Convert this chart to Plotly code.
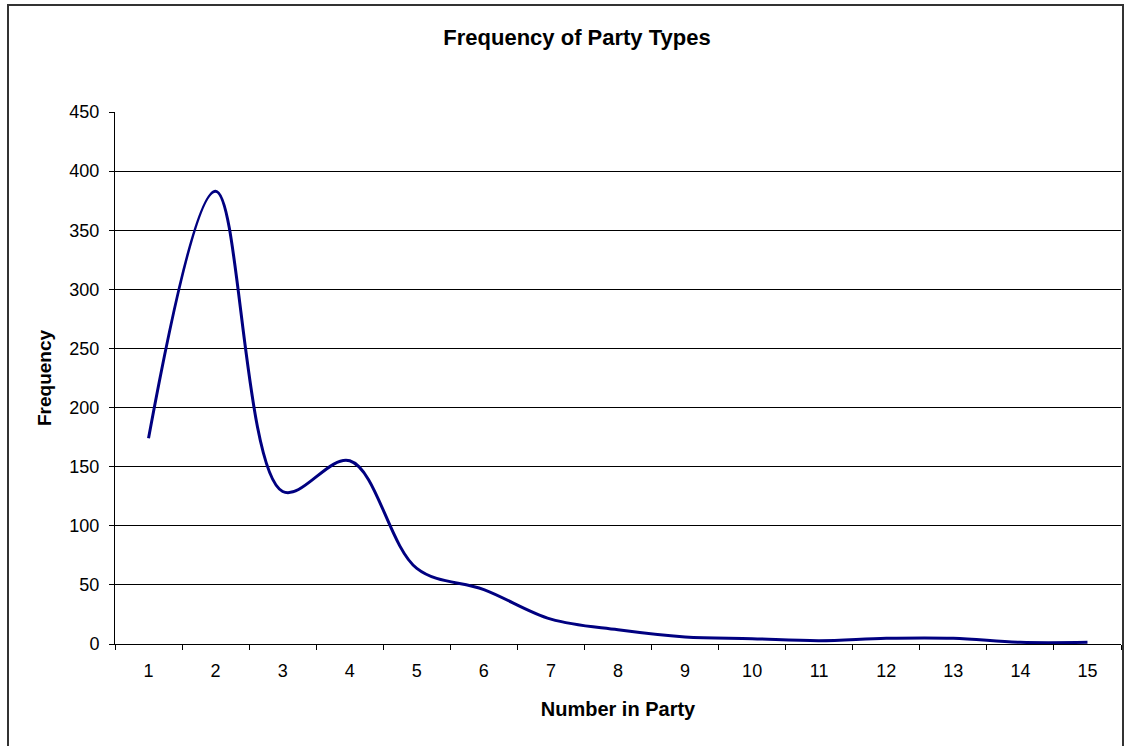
import plotly.graph_objects as go

party_size = [str(i) for i in range(1, 16)]
frequency = [174, 383, 129, 155, 64, 46, 21, 12, 6, 4.5, 2.8, 4.8, 4.8, 1.4, 1.4]
y_ticks = [0, 50, 100, 150, 200, 250, 300, 350, 400, 450]

W, H = 1130, 746
L, R, T, B = 115, 9, 112, 102
pw, ph = W - L - R, H - T - B

def px_x(x):
    return (x - L) / pw

def px_y(y):
    return (H - B - y) / ph

fig = go.Figure()
fig.add_trace(go.Scatter(
    x=party_size, y=frequency, mode="lines",
    line=dict(color="#000080", width=3, shape="spline", smoothing=1.0),
    hoverinfo="x+y", showlegend=False,
))

font = "Liberation Sans, Arial, sans-serif"
fig.update_layout(
    width=W, height=H,
    margin=dict(l=L, r=R, t=T, b=B),
    paper_bgcolor="white", plot_bgcolor="white",
    font=dict(family=font, color="black", size=18),
    title=dict(text="<b>Frequency of Party Types</b>", font=dict(size=22),
               x=px_x(577), xref="paper", xanchor="center",
               y=1 - 37 / H, yref="container", yanchor="middle"),
    xaxis=dict(type="category", range=[-0.5, 14.5], tickson="boundaries",
               ticks="outside", ticklen=5,
               tickcolor="black", showline=True, linecolor="black", linewidth=1,
               showgrid=False, zeroline=False, tickfont=dict(size=18),
               ticklabelstandoff=10,
               title=dict(text="<b>Number in Party</b>", font=dict(size=20), standoff=22)),
    yaxis=dict(range=[0, 450], tickvals=y_ticks, ticks="outside", ticklen=5,
               tickcolor="black", showline=True, linecolor="black", linewidth=1,
               showgrid=True, gridcolor="black", gridwidth=1, zeroline=False,
               tickfont=dict(size=18), ticklabelstandoff=6,
               title=dict(text="<b>Frequency</b>", font=dict(size=19), standoff=12)),
    shapes=[dict(type="rect", xref="paper", yref="paper",
                 x0=px_x(8), x1=px_x(1123), y0=px_y(5), y1=px_y(760),
                 line=dict(color="#333333", width=2), layer="below")],
)

fig.write_html("out.html")
